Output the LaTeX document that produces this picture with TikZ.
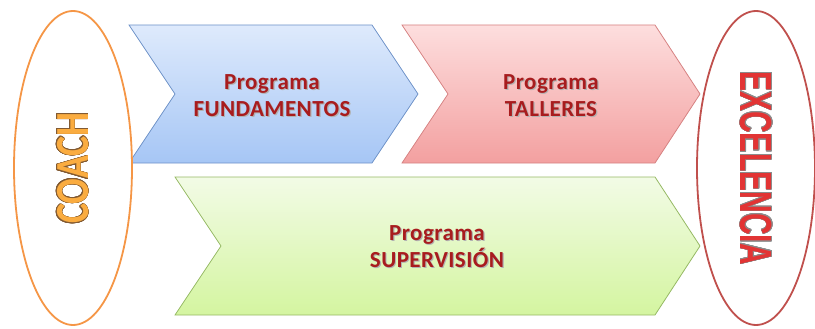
\documentclass[tikz,border=0pt]{standalone}
\usepackage{fontspec}
\setmainfont{Carlito}
\newfontfamily\progfont[LetterSpace=2]{Carlito}
\newfontfamily\excfont{Liberation Sans}
\usepackage{contour}
\usetikzlibrary{shapes.geometric}
\definecolor{progred}{RGB}{168,28,30}
\definecolor{bluetop}{RGB}{222,234,252}
\definecolor{bluebot}{RGB}{166,198,245}
\definecolor{blueedge}{RGB}{110,146,200}
\definecolor{redtop}{RGB}{253,222,222}
\definecolor{redbot}{RGB}{243,160,160}
\definecolor{rededge}{RGB}{214,130,130}
\definecolor{greentop}{RGB}{242,251,230}
\definecolor{greenbot}{RGB}{212,245,160}
\definecolor{greenedge}{RGB}{150,185,100}
\definecolor{coachorange}{RGB}{245,150,70}
\definecolor{coachfill}{RGB}{250,172,64}
\definecolor{coachedge}{RGB}{130,90,50}
\definecolor{excred}{RGB}{192,80,77}
\definecolor{excfill}{RGB}{226,52,52}
\newcommand{\shd}[1]{\rlap{\kern1.2pt\raisebox{-1.2pt}{\color{black!30}#1}}#1}
\contourlength{0.5pt}

\begin{document}
\begin{tikzpicture}[x=1pt, y=-1pt,
  chevron/.style={line width=0.8pt},
  progtext/.style={font=\progfont\bfseries\fontsize{23}{27}\selectfont, text=progred, align=center},
  goal/.style={ellipse, line width=1.8pt, fill=white, minimum width=118pt, minimum height=314pt, inner sep=0pt}]
  \useasboundingbox (0,0) rectangle (815,329);
  \draw [chevron, draw=blueedge, top color=bluetop, bottom color=bluebot]
    (129,25) -- (372,25) -- (418,94) -- (372,163) -- (129,163) -- (175,94) -- cycle;
  \draw [chevron, draw=rededge, top color=redtop, bottom color=redbot]
    (402,25) -- (655,25) -- (700,94) -- (655,163) -- (402,163) -- (448,94) -- cycle;
  \draw [chevron, draw=greenedge, top color=greentop, bottom color=greenbot]
    (175,177) -- (655,177) -- (700,246) -- (655,315) -- (175,315) -- (221,246) -- cycle;
  \node (fund) [progtext] at (272,96) {\shd{Programa}\\\shd{FUNDAMENTOS}};
  \node (tall) [progtext] at (551,96) {\shd{Programa}\\\shd{TALLERES}};
  \node (superv) [progtext] at (437,247) {\shd{Programa}\\\shd{SUPERVISIÓN}};
  \node (coach) [goal, draw=coachorange] at (73,168)
    {\rotatebox{90}{\scalebox{1}[1.25]{\bfseries\fontsize{38}{38}\selectfont\textcolor{coachfill}{\contour{coachedge}{COACH}}}}};
  \node (exc) [goal, draw=excred] at (756,168)
    {\rotatebox{-90}{\scalebox{1}[1.5]{\excfont\bfseries\fontsize{30}{30}\selectfont\textcolor{excfill}{\contour{black!45}{EXCELENCIA}}}}};
\end{tikzpicture}
\end{document}
